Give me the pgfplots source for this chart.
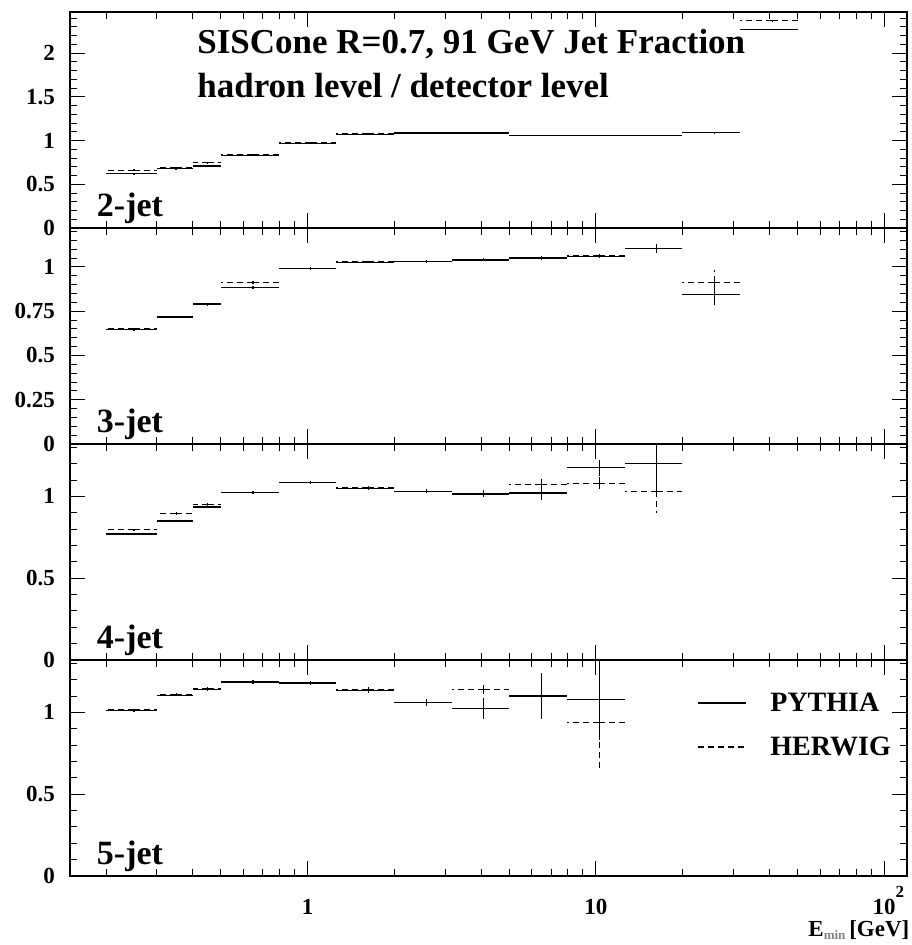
\documentclass[border=0pt]{standalone}
\usepackage{fontspec}
\setmainfont{Liberation Serif}
\usepackage{pgfplots}
\pgfplotsset{compat=1.18}
\pgfplotsset{
  every axis/.append style={
    xmode=log, xmin=0.15, xmax=120,
    width=837pt, height=216pt, scale only axis,
    anchor=south west,
    axis line style={line width=1.2pt},
    tick align=inside, xtick pos=both, ytick pos=both,
    major tick length=15pt, minor tick length=7pt,
    every tick/.append style={black, line width=0.9pt},
    xtick={1,10,100}, xticklabels={},
    minor xtick={0.2,0.3,0.4,0.5,0.6,0.7,0.8,0.9,2,3,4,5,6,7,8,9,20,30,40,50,60,70,80,90},
    ticklabel style={font=\bfseries\fontsize{23}{23}\selectfont},
    yticklabel style={anchor=east, inner sep=0pt, xshift=-15pt},
  },
  pythia/.style={draw=none, mark=none, forget plot,
    error bars/x dir=both, error bars/x explicit, error bars/y dir=both, error bars/y explicit,
    error bars/error mark=none,
    error bars/error bar style={draw=black, line width=1.3pt, solid}},
  herwig/.style={draw=none, mark=none, forget plot,
    error bars/x dir=both, error bars/x explicit, error bars/y dir=both, error bars/y explicit,
    error bars/error mark=none,
    error bars/error bar style={draw=black, line width=1.1pt, dash pattern=on 6pt off 4pt}},
}
\tikzset{jetlabel/.style={anchor=base west, inner sep=0pt, font=\bfseries\fontsize{34}{34}\selectfont}}
\begin{document}
\begin{tikzpicture}
\useasboundingbox (0pt,0pt) rectangle (912pt,945pt);
% ---------------- panel 1: 2-jet
\begin{axis}[at={(70pt,717pt)}, ymin=0, ymax=2.47,
  ytick={0,0.5,1,1.5,2}, yticklabels={0,0.5,1,1.5,2},
  minor ytick={0.1,0.2,0.3,0.4,0.6,0.7,0.8,0.9,1.1,1.2,1.3,1.4,1.6,1.7,1.8,1.9,2.1,2.2,2.3,2.4}]
\addplot[pythia] coordinates {
(0.25,0.62) +- (0.05,0.01)
(0.35,0.68) +- (0.05,0.01)
(0.45,0.71) +- (0.05,0.01)
(0.647,0.83) +- (0.147,0.01)
(1.0265,0.97) +- (0.2325,0.01)
(1.627,1.07) +- (0.368,0.005)
(2.5785,1.085) +- (0.5835,0.005)
(4.087,1.085) +- (0.925,0.005)
(6.4775,1.06) +- (1.4655,0.005)
(10.266,1.06) +- (2.323,0.005)
(16.271,1.06) +- (3.682,0.005)
(25.788,1.09) +- (5.835,0.005)
(40.871,2.27) +- (9.248,0.01)
};
\addplot[herwig] coordinates {
(0.25,0.66) +- (0.05,0.01)
(0.35,0.69) +- (0.05,0.01)
(0.45,0.745) +- (0.05,0.01)
(0.647,0.84) +- (0.147,0.01)
(1.0265,0.975) +- (0.2325,0.01)
(1.627,1.075) +- (0.368,0.005)
(2.5785,1.09) +- (0.5835,0.005)
(4.087,1.09) +- (0.925,0.005)
(6.4775,1.06) +- (1.4655,0.005)
(10.266,1.06) +- (2.323,0.005)
(16.271,1.06) +- (3.682,0.005)
(25.788,1.095) +- (5.835,0.005)
(40.871,2.37) +- (9.248,0.01)
};
\node[jetlabel] at (rel axis cs:0.032,0.051) {2-jet};
\node[anchor=base west, inner sep=0pt, font=\bfseries\fontsize{35}{35}\selectfont] at (rel axis cs:0.152,0.806) {SISCone R=0.7, 91 GeV Jet Fraction};
\node[anchor=base west, inner sep=0pt, font=\bfseries\fontsize{35}{35}\selectfont] at (rel axis cs:0.152,0.604) {hadron level / detector level};
\end{axis}
% ---------------- panel 2: 3-jet
\begin{axis}[at={(70pt,501pt)}, ymin=0, ymax=1.22,
  ytick={0,0.25,0.5,0.75,1}, yticklabels={0,0.25,0.5,0.75,1},
  minor ytick={0.05,0.1,0.15,0.2,0.3,0.35,0.4,0.45,0.55,0.6,0.65,0.7,0.8,0.85,0.9,0.95,1.05,1.1,1.15,1.2}]
\addplot[pythia] coordinates {
(0.25,0.645) +- (0.05,0.005)
(0.35,0.718) +- (0.05,0.005)
(0.45,0.79) +- (0.05,0.008)
(0.647,0.885) +- (0.147,0.008)
(1.0265,0.99) +- (0.2325,0.008)
(1.627,1.027) +- (0.368,0.005)
(2.5785,1.03) +- (0.5835,0.005)
(4.087,1.04) +- (0.925,0.006)
(6.4775,1.05) +- (1.4655,0.008)
(10.266,1.06) +- (2.323,0.01)
(16.271,1.105) +- (3.682,0.025)
(25.788,0.845) +- (5.835,0.06)
};
\addplot[herwig] coordinates {
(0.25,0.65) +- (0.05,0.005)
(0.35,0.718) +- (0.05,0.005)
(0.45,0.79) +- (0.05,0.008)
(0.647,0.91) +- (0.147,0.008)
(1.0265,0.99) +- (0.2325,0.008)
(1.627,1.03) +- (0.368,0.005)
(2.5785,1.032) +- (0.5835,0.005)
(4.087,1.042) +- (0.925,0.006)
(6.4775,1.052) +- (1.4655,0.008)
(10.266,1.062) +- (2.323,0.01)
(16.271,1.105) +- (3.682,0.025)
(25.788,0.913) +- (5.835,0.07)
};
\node[jetlabel] at (rel axis cs:0.032,0.051) {3-jet};
\end{axis}
% ---------------- panel 3: 4-jet
\begin{axis}[at={(70pt,285pt)}, ymin=0, ymax=1.32,
  ytick={0,0.5,1}, yticklabels={0,0.5,1},
  minor ytick={0.1,0.2,0.3,0.4,0.6,0.7,0.8,0.9,1.1,1.2,1.3}]
\addplot[pythia] coordinates {
(0.25,0.77) +- (0.05,0.008)
(0.35,0.85) +- (0.05,0.008)
(0.45,0.935) +- (0.05,0.008)
(0.647,1.025) +- (0.147,0.008)
(1.0265,1.085) +- (0.2325,0.008)
(1.627,1.05) +- (0.368,0.01)
(2.5785,1.03) +- (0.5835,0.012)
(4.087,1.015) +- (0.925,0.02)
(6.4775,1.02) +- (1.4655,0.04)
(10.266,1.175) +- (2.323,0.05)
(16.271,1.2) +- (3.682,0.16)
};
\addplot[herwig] coordinates {
(0.25,0.795) +- (0.05,0.008)
(0.35,0.895) +- (0.05,0.008)
(0.45,0.95) +- (0.05,0.008)
(0.647,1.025) +- (0.147,0.008)
(1.0265,1.087) +- (0.2325,0.008)
(1.627,1.052) +- (0.368,0.01)
(2.5785,1.032) +- (0.5835,0.012)
(4.087,1.02) +- (0.925,0.02)
(6.4775,1.075) +- (1.4655,0.03)
(10.266,1.08) +- (2.323,0.05)
(16.271,1.03) +- (3.682,0.13)
};
\node[jetlabel] at (rel axis cs:0.032,0.051) {4-jet};
\end{axis}
% ---------------- panel 4: 5-jet
\begin{axis}[at={(70pt,69pt)}, ymin=0, ymax=1.32,
  ytick={0,0.5,1}, yticklabels={0,0.5,1},
  minor ytick={0.1,0.2,0.3,0.4,0.6,0.7,0.8,0.9,1.1,1.2,1.3},
  xticklabels={1,10,{10\rlap{\raisebox{0.7em}{\fontsize{17}{17}\selectfont 2}}}},
  xticklabel style={anchor=base, inner sep=0pt, yshift=-38pt},
  xlabel={E\raisebox{-0.15em}{\fontsize{13}{13}\selectfont\color{gray}min}\,[GeV]},
  every axis x label/.style={at={(rel axis cs:1.003,-0.28)}, anchor=base east, inner sep=0pt,
    font=\bfseries\fontsize{23}{23}\selectfont},
  legend style={at={(rel axis cs:0.749,0.699)}, anchor=west, draw=none, fill=none,
    inner sep=0pt, font=\bfseries\fontsize{28}{28}\selectfont, row sep=20pt},
  legend cell align=left,
  legend image code/.code={\draw[#1] (0pt,0pt) -- (48pt,0pt); \path (70pt,0pt);}]
\addplot[pythia] coordinates {
(0.25,1.01) +- (0.05,0.008)
(0.35,1.105) +- (0.05,0.008)
(0.45,1.14) +- (0.05,0.01)
(0.647,1.185) +- (0.147,0.01)
(1.0265,1.18) +- (0.2325,0.01)
(1.627,1.135) +- (0.368,0.015)
(2.5785,1.06) +- (0.5835,0.02)
(4.087,1.025) +- (0.925,0.065)
(6.4775,1.1) +- (1.4655,0.14)
(10.266,1.08) +- (2.323,0.25)
(16.271,0) +- (3.682,0)
(25.788,0) +- (5.835,0)
(40.871,0) +- (9.248,0)
(64.776,0) +- (14.657,0)
(102.66,0) +- (23.23,0)
};
\addplot[herwig] coordinates {
(0.25,1.015) +- (0.05,0.008)
(0.35,1.108) +- (0.05,0.008)
(0.45,1.145) +- (0.05,0.01)
(0.647,1.188) +- (0.147,0.01)
(1.0265,1.182) +- (0.2325,0.01)
(1.627,1.138) +- (0.368,0.015)
(2.5785,1.062) +- (0.5835,0.02)
(4.087,1.14) +- (0.925,0.03)
(6.4775,1.105) +- (1.4655,0.12)
(10.266,0.94) +- (2.323,0.29)
};
\addlegendimage{black, line width=1.3pt}
\addlegendentry{PYTHIA}
\addlegendimage{black, line width=1.1pt, dash pattern=on 6pt off 4pt}
\addlegendentry{HERWIG}
\node[jetlabel] at (rel axis cs:0.032,0.051) {5-jet};
\end{axis}
\end{tikzpicture}
\end{document}
